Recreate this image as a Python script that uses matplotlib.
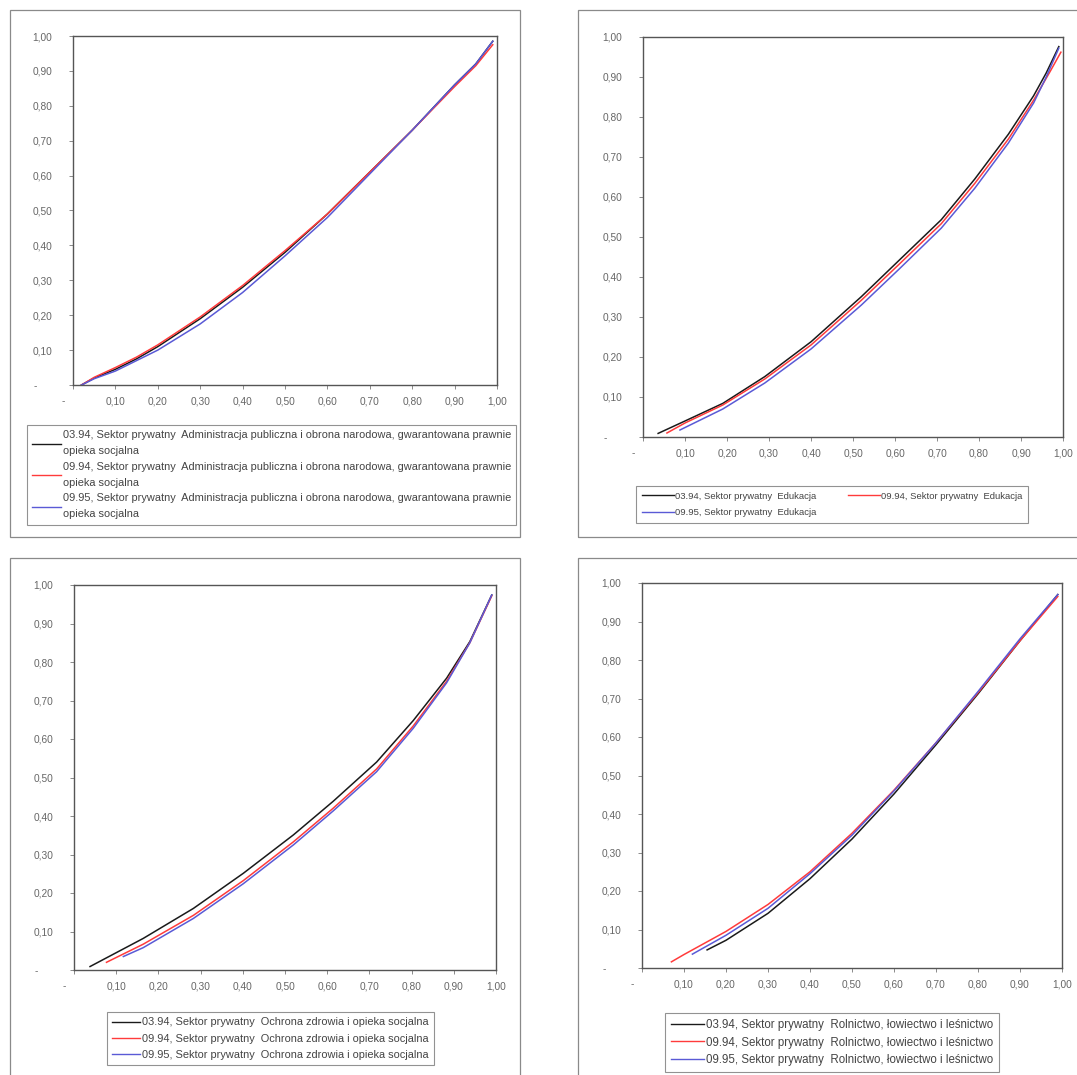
import matplotlib
matplotlib.use("Agg")
import matplotlib.pyplot as plt
from matplotlib.patches import Rectangle
from matplotlib.lines import Line2D
from matplotlib.transforms import ScaledTranslation

plt.rcParams["font.family"] = ["Liberation Sans", "DejaVu Sans"]

W, H = 1077, 1075

# ---- data: concentration curves (cumulative share of workers vs. wages) ----
periods = ["03.94", "09.94", "09.95"]
colors = ["#1a1a1a", "#ff3b3b", "#5a5ad6"]

# Administracja publiczna i obrona narodowa
adm_x = [[0.02, 0.05, 0.10, 0.15, 0.20, 0.30, 0.40, 0.50, 0.60, 0.70, 0.80, 0.90, 0.95, 0.99],
         [0.02, 0.05, 0.10, 0.15, 0.20, 0.30, 0.40, 0.50, 0.60, 0.70, 0.80, 0.90, 0.95, 0.99],
         [0.02, 0.05, 0.10, 0.15, 0.20, 0.30, 0.40, 0.50, 0.60, 0.70, 0.80, 0.90, 0.95, 0.99]]
adm_y = [[0.00, 0.020, 0.045, 0.075, 0.110, 0.190, 0.280, 0.380, 0.490, 0.610, 0.730, 0.860, 0.920, 0.985],
         [0.00, 0.022, 0.050, 0.080, 0.115, 0.195, 0.285, 0.385, 0.490, 0.610, 0.730, 0.855, 0.915, 0.975],
         [0.00, 0.018, 0.040, 0.070, 0.100, 0.175, 0.265, 0.370, 0.480, 0.605, 0.730, 0.860, 0.920, 0.985]]

# Edukacja
edu_x = [[0.036, 0.10, 0.19, 0.29, 0.40, 0.52, 0.61, 0.71, 0.79, 0.87, 0.93, 0.96, 0.99],
         [0.057, 0.10, 0.19, 0.29, 0.40, 0.52, 0.61, 0.71, 0.79, 0.87, 0.93, 0.97, 0.995],
         [0.088, 0.19, 0.29, 0.40, 0.52, 0.61, 0.71, 0.79, 0.87, 0.93, 0.96, 0.99]]
edu_y = [[0.009, 0.040, 0.084, 0.151, 0.238, 0.351, 0.442, 0.543, 0.645, 0.757, 0.853, 0.910, 0.976],
         [0.010, 0.035, 0.080, 0.145, 0.230, 0.342, 0.432, 0.533, 0.634, 0.745, 0.842, 0.915, 0.962],
         [0.0175, 0.070, 0.135, 0.220, 0.330, 0.420, 0.522, 0.622, 0.735, 0.835, 0.900, 0.972]]

# Ochrona zdrowia i opieka socjalna
zdr_x = [[0.038, 0.164, 0.283, 0.401, 0.520, 0.614, 0.717, 0.804, 0.883, 0.938, 0.990],
         [0.077, 0.164, 0.283, 0.401, 0.520, 0.614, 0.717, 0.804, 0.883, 0.938, 0.990],
         [0.117, 0.164, 0.283, 0.401, 0.520, 0.614, 0.717, 0.804, 0.883, 0.938, 0.990]]
zdr_y = [[0.009, 0.082, 0.160, 0.251, 0.351, 0.438, 0.540, 0.648, 0.758, 0.853, 0.974],
         [0.020, 0.067, 0.142, 0.232, 0.333, 0.420, 0.522, 0.634, 0.750, 0.850, 0.972],
         [0.035, 0.058, 0.134, 0.224, 0.325, 0.413, 0.515, 0.628, 0.746, 0.850, 0.974]]

# Rolnictwo, łowiectwo i leśnictwo
rol_x = [[0.155, 0.20, 0.30, 0.40, 0.50, 0.60, 0.70, 0.80, 0.90, 0.99],
         [0.070, 0.10, 0.20, 0.30, 0.40, 0.50, 0.60, 0.70, 0.80, 0.90, 0.99],
         [0.120, 0.20, 0.30, 0.40, 0.50, 0.60, 0.70, 0.80, 0.90, 0.99]]
rol_y = [[0.047, 0.072, 0.142, 0.232, 0.335, 0.452, 0.580, 0.712, 0.850, 0.970],
         [0.016, 0.035, 0.095, 0.165, 0.250, 0.350, 0.462, 0.585, 0.715, 0.850, 0.965],
         [0.036, 0.085, 0.155, 0.245, 0.345, 0.460, 0.585, 0.718, 0.855, 0.970]]

tick_vals = [0.0, 0.1, 0.2, 0.3, 0.4, 0.5, 0.6, 0.7, 0.8, 0.9, 1.0]
tick_labels = ["-", "0,10", "0,20", "0,30", "0,40", "0,50", "0,60", "0,70", "0,80", "0,90", "1,00"]

sector = "Sektor prywatny"
labels_adm = [f"{p}, {sector}  Administracja publiczna i obrona narodowa, gwarantowana prawnie\nopieka socjalna"
              for p in periods]
labels_edu = [f"{p}, {sector}  Edukacja" for p in periods]
labels_zdr = [f"{p}, {sector}  Ochrona zdrowia i opieka socjalna" for p in periods]
labels_rol = [f"{p}, {sector}  Rolnictwo, łowiectwo i leśnictwo" for p in periods]


def fig_rect(l, r, t, b):
    return [l / W, 1 - b / H, (r - l) / W, (b - t) / H]


fig = plt.figure(figsize=(W / 100, H / 100), dpi=100)
fig.patch.set_facecolor("white")

# panel frames
for (l, t, r, b) in [(10, 10, 520, 537), (578, 10, 1085, 537),
                     (10, 558, 520, 1085), (578, 558, 1085, 1085)]:
    fig.patches.append(Rectangle((l / W, 1 - b / H), (r - l) / W, (b - t) / H,
                                 transform=fig.transFigure, fill=False,
                                 edgecolor="#8a8a8a", linewidth=0.9))


def draw_panel(rect, xs, ys, labels, leg_anchor, fontsize, ncol=1, order=None,
               handlelength=2.6, labelspacing=0.5, columnspacing=0.6, borderpad=0.5,
               linespacing=1.2):
    ax = fig.add_axes(fig_rect(*rect))
    for x, y, c in zip(xs, ys, colors):
        ax.plot(x, y, color=c, lw=1.1, solid_joinstyle="round")
    ax.set_xlim(0, 1)
    ax.set_ylim(0, 1)
    ax.set_xticks(tick_vals)
    ax.set_xticklabels(tick_labels)
    ax.set_yticks(tick_vals)
    ax.set_yticklabels(tick_labels)
    ax.tick_params(direction="out", length=3, width=0.6, color="#777777",
                   labelsize=7.3, labelcolor="#666666")
    ax.tick_params(axis="x", pad=5)
    ax.tick_params(axis="y", pad=12)
    for s in ax.spines.values():
        s.set_color("#555555")
        s.set_linewidth(1.0)
    # zero labels sit a little to the left
    xl0 = ax.get_xticklabels()[0]
    xl0.set_transform(xl0.get_transform() + ScaledTranslation(-0.10, 0, fig.dpi_scale_trans))
    yl0 = ax.get_yticklabels()[0]
    yl0.set_transform(yl0.get_transform() + ScaledTranslation(-0.15, 0, fig.dpi_scale_trans))

    hs = [Line2D([], [], color=c, lw=1.0) for c in colors]
    ls = list(labels)
    if order is not None:
        hs = [hs[i] for i in order]
        ls = [ls[i] for i in order]
    leg = fig.legend(hs, ls, loc="upper left",
                     bbox_to_anchor=(leg_anchor[0] / W, 1 - leg_anchor[1] / H),
                     bbox_transform=fig.transFigure, ncol=ncol, fontsize=fontsize,
                     frameon=True, fancybox=False, edgecolor="#777777",
                     borderaxespad=0, borderpad=borderpad, handlelength=handlelength,
                     handletextpad=0.15, labelspacing=labelspacing,
                     columnspacing=columnspacing)
    leg.get_frame().set_linewidth(0.8)
    for t in leg.get_texts():
        t.set_color("#444444")
        t.set_linespacing(linespacing)
    return ax


draw_panel((73, 497, 36, 385), adm_x, adm_y, labels_adm, (27, 425), 7.9,
           handlelength=2.6, labelspacing=0.5, linespacing=1.75)
draw_panel((643, 1063, 37, 437), edu_x, edu_y, labels_edu, (636, 486), 6.8, ncol=2,
           order=[0, 2, 1], handlelength=3.4, labelspacing=0.8, columnspacing=3.3,
           borderpad=0.6)
draw_panel((74, 496, 585, 970), zdr_x, zdr_y, labels_zdr, (107, 1012), 7.9,
           handlelength=2.5, labelspacing=0.55)
draw_panel((642, 1062, 583, 968), rol_x, rol_y, labels_rol, (665, 1013), 8.3,
           handlelength=2.9, labelspacing=0.5)

fig.savefig("out.png", dpi=100, facecolor="white")
